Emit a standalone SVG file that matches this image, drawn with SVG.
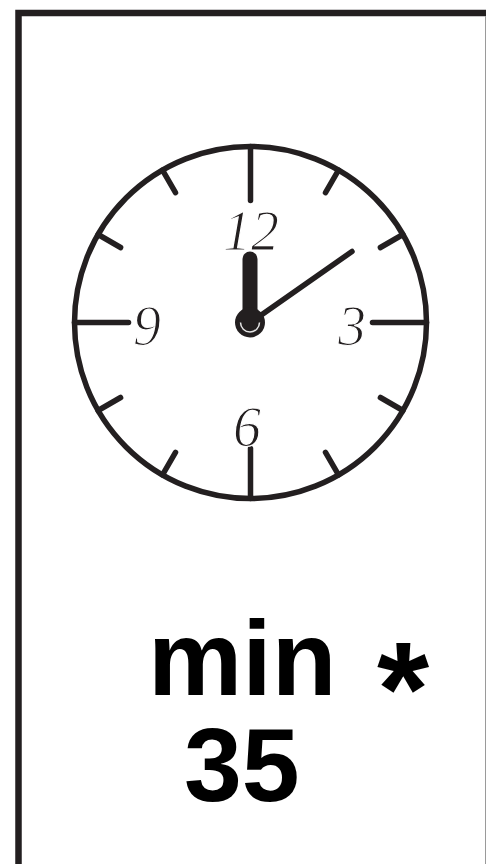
<svg xmlns="http://www.w3.org/2000/svg" width="486" height="864" viewBox="0 0 486 864">
<defs>
<style>
.ink{stroke:#231f20;stroke-linecap:round;fill:none}
.tick{stroke:#231f20;stroke-width:5.5;stroke-linecap:round;fill:none}
.num{font-family:"Liberation Serif","DejaVu Serif",serif;font-style:italic;font-size:56px;fill:#231f20;text-anchor:middle;stroke:#fff;stroke-width:1.2}
.big{font-family:"Liberation Sans",Arial,sans-serif;font-weight:bold;fill:#000}
</style>
</defs>
<rect width="486" height="864" fill="#fff"/>
<g id="frame">
<path d="M18.5,864 V13 H486" fill="none" stroke="#231f20" stroke-width="6.5"/>
<line x1="485.5" y1="16" x2="485.5" y2="864" stroke="#9a9a9a" stroke-width="1"/>
</g>
<g id="clock">
<circle cx="250.5" cy="322.5" r="176" fill="#fff" stroke="#231f20" stroke-width="5.5"/>
<g id="ticks" transform="translate(250.5 322.5)">
<line class="tick" x1="0" y1="-176" x2="0" y2="-122"/>
<line class="tick" x1="0" y1="176" x2="0" y2="126"/>
<line class="tick" x1="-176" y1="0" x2="-122" y2="0"/>
<line class="tick" x1="176" y1="0" x2="122" y2="0"/>
<line class="tick" x1="0" y1="-176" x2="0" y2="-150" transform="rotate(30)"/>
<line class="tick" x1="0" y1="-176" x2="0" y2="-150" transform="rotate(60)"/>
<line class="tick" x1="0" y1="-176" x2="0" y2="-150" transform="rotate(120)"/>
<line class="tick" x1="0" y1="-176" x2="0" y2="-150" transform="rotate(150)"/>
<line class="tick" x1="0" y1="-176" x2="0" y2="-150" transform="rotate(210)"/>
<line class="tick" x1="0" y1="-176" x2="0" y2="-150" transform="rotate(240)"/>
<line class="tick" x1="0" y1="-176" x2="0" y2="-150" transform="rotate(300)"/>
<line class="tick" x1="0" y1="-176" x2="0" y2="-150" transform="rotate(330)"/>
</g>
<g id="numbers">
<text class="num" x="251" y="250">12</text>
<text class="num" x="147" y="345">9</text>
<text class="num" x="352" y="345">3</text>
<text class="num" x="247" y="446">6</text>
</g>
<g id="hands">
<line class="ink" x1="250.5" y1="322.5" x2="352" y2="251.5" stroke-width="5.5"/>
<line class="ink" x1="250" y1="322" x2="250" y2="259" stroke-width="15"/>
<circle cx="250" cy="322.5" r="15" fill="#231f20"/>
<path d="M240.5,322.5 A9.5,9.5 0 0 0 259.5,322.5" fill="none" stroke="#e6e6e6" stroke-width="1.5"/>
</g>
</g>
<g id="label">
<text class="big" x="148" y="695" font-size="106">min</text>
<text class="big" x="377" y="735" font-size="134">*</text>
<text class="big" x="184" y="801" font-size="104">35</text>
</g>
</svg>
